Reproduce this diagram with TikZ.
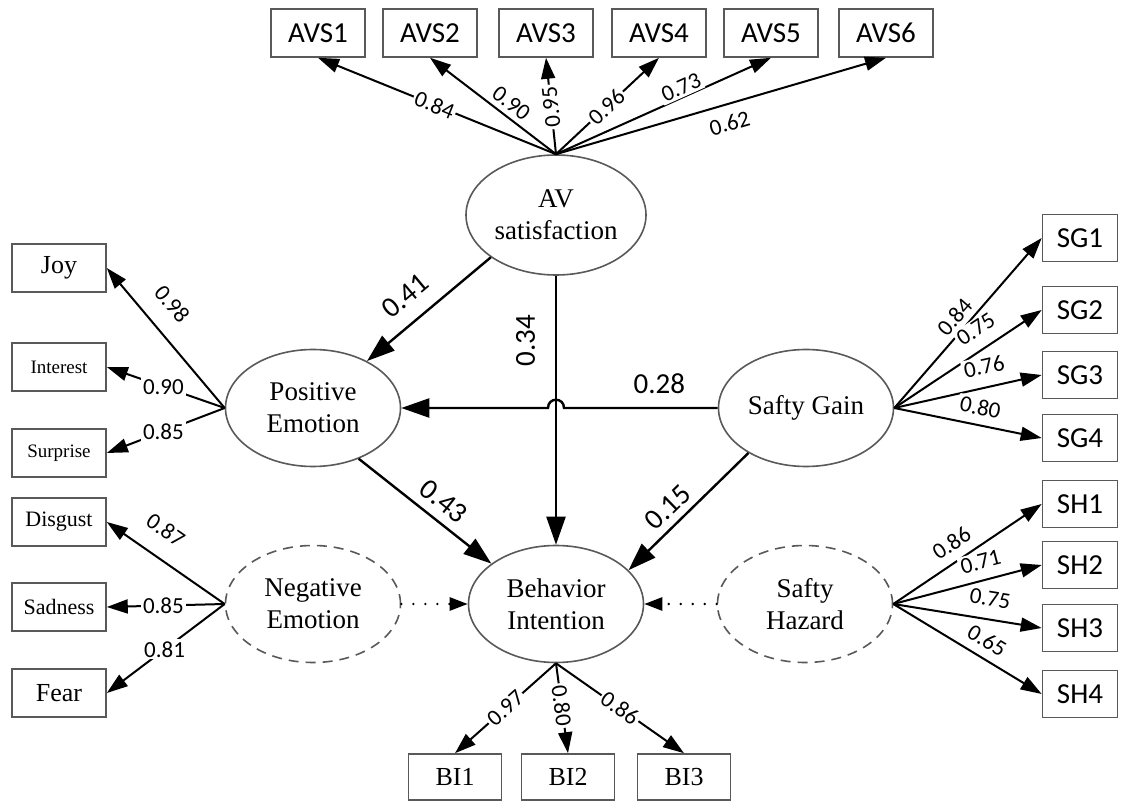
\documentclass[tikz,border=0pt]{standalone}
\usepackage{fontspec}
\setmainfont{Liberation Serif}
\newfontfamily\lblfont{Carlito}
\usetikzlibrary{shapes,arrows.meta,calc}
\tikzstyle{mbox} = [draw=black!65, line width=0.8pt, rectangle, inner sep=0pt, minimum width=47pt, minimum height=24pt, font=\fontsize{13}{15}\selectfont]
\tikzstyle{abox} = [mbox, font=\lblfont\fontsize{14.5}{16}\selectfont]
\tikzstyle{sbox} = [abox, minimum width=37.5pt, minimum height=23.5pt]
\tikzstyle{latent} = [draw=black!65, line width=0.8pt, ellipse, inner sep=0pt, minimum width=87.5pt, minimum height=58.5pt, align=center, font=\fontsize{13.5}{16}\selectfont]
\tikzstyle{hidden} = [latent, dash pattern=on 5pt off 3.5pt]
\tikzstyle{load} = [draw, line width=1pt, -{Triangle[length=10.5pt,width=7pt]}]
\tikzstyle{effect} = [draw, line width=1.2pt, -{Triangle[length=14pt,width=9.5pt]}]
\tikzstyle{weak} = [draw, line width=1.3pt, line cap=round, dash pattern=on 0pt off 6pt, -{Triangle[length=9pt,width=6.5pt]}]
\tikzstyle{coef} = [font=\lblfont\fontsize{11.5}{13}\selectfont, inner sep=1pt, fill=white]
\tikzstyle{bigcoef} = [font=\lblfont\fontsize{14.5}{16}\selectfont, inner sep=1pt, fill=white]

\begin{document}
\begin{tikzpicture}[x=0.5pt, y=-0.5pt]
    \useasboundingbox (0,0) rectangle (1131,802);
    \node[latent, minimum width=90pt, minimum height=60pt] (avsat) at (556,215) {AV\\satisfaction};
    \node[latent] (posemo) at (313,408) {Positive\\Emotion};
    \node[latent] (gain) at (806,408) {Safty Gain};
    \node[hidden] (negemo) at (313,604) {Negative\\Emotion};
    \node[latent] (intent) at (556,604) {Behavior\\Intention};
    \node[hidden] (hazard) at (805,604) {Safty\\Hazard};

    \node[abox] (avs1) at (318,33) {AVS1};
    \node[abox] (avs2) at (430,33) {AVS2};
    \node[abox] (avs3) at (546,33) {AVS3};
    \node[abox] (avs4) at (659,33) {AVS4};
    \node[abox] (avs5) at (771,33) {AVS5};
    \node[abox] (avs6) at (886,33) {AVS6};

    \node[mbox] (joy) at (59,268) {Joy};
    \node[mbox, font=\fontsize{9.5}{11}\selectfont] (interest) at (59,367) {Interest};
    \node[mbox, font=\fontsize{9.5}{11}\selectfont] (surprise) at (59,453) {Surprise};
    \node[mbox, font=\fontsize{11}{13}\selectfont] (disgust) at (59,522) {Disgust};
    \node[mbox, font=\fontsize{11}{13}\selectfont] (sadness) at (59,607) {Sadness};
    \node[mbox] (fear) at (59,693) {Fear};

    \node[sbox] (sg1) at (1080,238) {SG1};
    \node[sbox] (sg2) at (1080,310) {SG2};
    \node[sbox] (sg3) at (1080,375) {SG3};
    \node[sbox] (sg4) at (1080,438) {SG4};
    \node[sbox] (sh1) at (1080,504) {SH1};
    \node[sbox] (sh2) at (1080,565) {SH2};
    \node[sbox] (sh3) at (1080,628) {SH3};
    \node[sbox] (sh4) at (1080,694) {SH4};

    \node[mbox, minimum width=46.5pt, minimum height=23pt] (bi1) at (455,777) {BI1};
    \node[mbox, minimum width=46.5pt, minimum height=23pt] (bi2) at (568,777) {BI2};
    \node[mbox, minimum width=46.5pt, minimum height=23pt] (bi3) at (684,777) {BI3};

    \coordinate (jump) at (avsat.south |- gain.west);

    \path[load] (avsat.north) -- node[coef, sloped, pos=0.51] {0.84} (avs1.south);
    \path[load] (avsat.north) -- node[coef, sloped, anchor=south, outer sep=2pt, pos=0.42] {0.90} (avs2.south);
    \path[load] (avsat.north) -- node[coef, sloped, allow upside down, pos=0.49] {0.95} (avs3.south);
    \path[load] (avsat.north) -- node[coef, sloped, pos=0.49] {0.96} (avs4.south);
    \path[load] (avsat.north) -- node[coef, sloped, anchor=south, outer sep=0pt, pos=0.6] {0.73} (avs5.south);
    \path[load] (avsat.north) -- node[coef, sloped, anchor=north, outer sep=4.5pt, pos=0.51] {0.62} (avs6.south);

    \path[load] (posemo.west) -- node[coef, sloped, anchor=south, outer sep=8.5pt, pos=0.62] {0.98} (joy.east);
    \path[load] (posemo.west) -- node[coef, pos=0.52] {0.90} (interest.east);
    \path[load] (posemo.west) -- node[coef, pos=0.52] {0.85} (surprise.east);

    \path[load] (negemo.west) -- node[coef, sloped, anchor=south, outer sep=8.5pt, pos=0.63] {0.87} (disgust.east);
    \path[load] (negemo.west) -- node[coef, pos=0.52] {0.85} (sadness.east);
    \path[load] (negemo.west) -- node[coef, pos=0.51] {0.81} (fear.east);

    \path[load] (gain.east) -- node[coef, sloped, anchor=south, outer sep=2pt, pos=0.48] {0.84} (sg1.west);
    \path[load] (gain.east) -- node[coef, sloped, anchor=south, outer sep=5.5pt, pos=0.63] {0.75} (sg2.west);
    \path[load] (gain.east) -- node[coef, sloped, anchor=south, outer sep=5.5pt, pos=0.64] {0.76} (sg3.west);
    \path[load] (gain.east) -- node[coef, sloped, anchor=south, outer sep=4pt, pos=0.56] {0.80} (sg4.west);

    \path[load] (hazard.east) -- node[coef, sloped, anchor=south, outer sep=4pt, pos=0.46] {0.86} (sh1.west);
    \path[load] (hazard.east) -- node[coef, sloped, anchor=south, outer sep=4.5pt, pos=0.62] {0.71} (sh2.west);
    \path[load] (hazard.east) -- node[coef, sloped, anchor=south, outer sep=5.5pt, pos=0.63] {0.75} (sh3.west);
    \path[load] (hazard.east) -- node[coef, sloped, anchor=south, outer sep=4pt, pos=0.57] {0.65} (sh4.west);

    \path[load] (intent.south) -- node[coef, sloped, pos=0.5] {0.97} (bi1.north);
    \path[load] (intent.south) -- node[coef, sloped, pos=0.47] {0.80} (bi2.north);
    \path[load] (intent.south) -- node[coef, sloped, pos=0.5] {0.86} (bi3.north);

    \path[effect] (avsat.213) -- node[bigcoef, sloped, anchor=south, outer sep=7pt, pos=0.56] {0.41} (posemo.41);
    \path[effect] (avsat.south) -- node[bigcoef, rotate=90, anchor=south, outer sep=9.5pt, pos=0.24] {0.34} (intent.north);
    \path[effect] (gain.west) -- node[bigcoef, anchor=south, outer sep=6pt, pos=0.38] {0.28} ($(jump)+(8,0)$)
        .. controls +(0,-11) and +(0,-11) .. ($(jump)-(8,0)$) -- (posemo.east);
    \path[effect] (posemo.-48) -- node[bigcoef, sloped, anchor=south, outer sep=4pt, pos=0.55] {0.43} (intent.148);
    \path[effect] (gain.218) -- node[bigcoef, sloped, anchor=south, outer sep=3pt, pos=0.57] {0.15} (intent.25);

    \path[weak] (negemo.east) -- (intent.west);
    \path[weak] (hazard.west) -- (intent.east);
\end{tikzpicture}
\end{document}
